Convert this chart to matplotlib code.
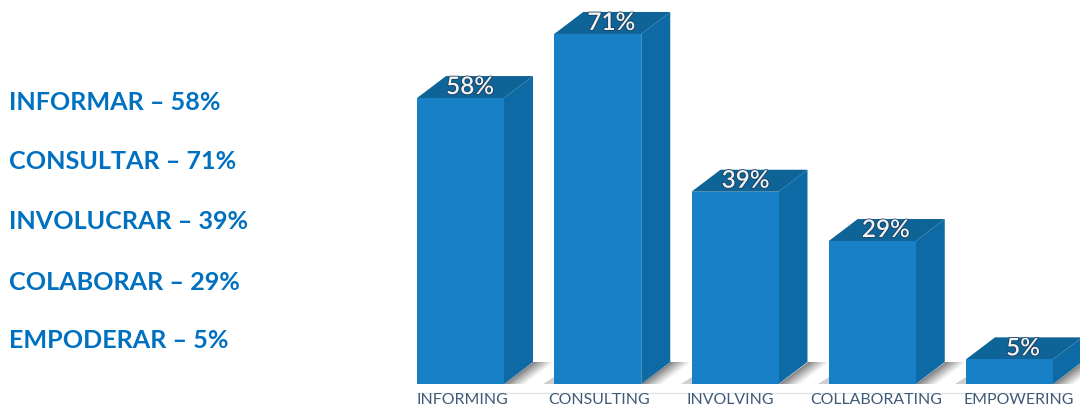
import matplotlib
matplotlib.use("Agg")
import matplotlib.pyplot as plt
import matplotlib.patheffects as pe
from matplotlib.patches import Polygon
import numpy as np

categories_en = ["INFORMING", "CONSULTING", "INVOLVING", "COLLABORATING", "EMPOWERING"]
categories_es = ["INFORMAR", "CONSULTAR", "INVOLUCRAR", "COLABORAR", "EMPODERAR"]
values = [58, 71, 39, 29, 5]
value_labels = ["58%", "71%", "39%", "29%", "5%"]

W, H = 1080, 408
STEP_PX = 137.25      # spacing between bars
ORIGIN_PX = 460.5     # centre of the first bar
BASE_PX = 384.0       # pixel row of value zero
UNIT_PX = 4.93        # pixels per percentage point

FRONT = "#1880c6"
SIDE = "#0e6aa4"
TOP = "#0e6496"
INK = "#0070c0"
CAPTION = "#3f5a78"

fig = plt.figure(figsize=(W / 100, H / 100), dpi=100, facecolor="white")
ax = fig.add_axes([0, 0, 1, 1])
xlim = (-ORIGIN_PX / STEP_PX, (W - ORIGIN_PX) / STEP_PX)
ylim = ((BASE_PX - H) / UNIT_PX, BASE_PX / UNIT_PX)
ax.axis("off")

width = 87 / STEP_PX
dx = 29 / STEP_PX
dy = 22 / UNIT_PX
xs = np.arange(len(values))

# Thin floor line under the bars
ax.plot([-0.32, 4.4], [-9 / UNIT_PX] * 2, color="#dfe3e8", lw=0.9, zorder=1)

# Soft cast shadows: a band along the lower edge of each side face, fading to the right
grid_x = np.linspace(0, 52, 105)
grid_y = np.linspace(0, 22, 45)
gx, gy = np.meshgrid(grid_x, grid_y)
away = gx - gy * 29 / 22
alpha = np.clip(1 - away / 22, 0, 1) ** 1.1 * 0.85
alpha[away < 0] = 0
shadow = np.zeros(alpha.shape + (4,))
shadow[..., :3] = 0.40
shadow[..., 3] = alpha
for x in xs:
    r = x + width / 2
    ax.imshow(shadow, origin="lower", aspect="auto", zorder=2, interpolation="bilinear",
              extent=(r, r + 52 / STEP_PX, 0, dy))
    # faint pool of shadow touching the left foot of the next bar
    if x + 1 < len(values):
        nl = x + 1 - width / 2
        ax.add_patch(Polygon([(nl - 11 / STEP_PX, 0), (nl, 0), (nl, 7 / UNIT_PX)],
                             fc="#a9a9a9", ec="none", alpha=0.55, zorder=2))
ax.set_xlim(*xlim)
ax.set_ylim(*ylim)

# Front faces
ax.bar(xs, values, width=width, color=FRONT, zorder=4)

# Side and top faces of each box
for x, v in zip(xs, values):
    l, r = x - width / 2, x + width / 2
    ax.add_patch(Polygon([(r, 0), (r + dx, dy), (r + dx, v + dy), (r, v)],
                         fc=SIDE, ec="none", zorder=3))
    ax.add_patch(Polygon([(l, v), (l + dx, v + dy), (r + dx, v + dy), (r, v)],
                         fc=TOP, ec="none", zorder=3))

# Value printed on the top face of each box
label_shift = [9.5, 13.5, 10.5, 13.5, 13.5]
for x, v, text, shift in zip(xs, values, value_labels, label_shift):
    ax.text(x + shift / STEP_PX, v + 11.5 / UNIT_PX, text, ha="center", va="center",
            color="#f1f4f7", fontsize=17.5, family="Lato", fontweight="semibold", zorder=6,
            path_effects=[pe.withStroke(linewidth=1.2, foreground="#1c3f5e")])

# Captions under the floor line
caption_shift = [2, 1, -5, 4, 9]
for x, text, shift in zip(xs, categories_en, caption_shift):
    ax.text(x + shift / STEP_PX, -15.5 / UNIT_PX, text, ha="center", va="center",
            color=CAPTION, fontsize=11.4, family="Lato", zorder=6)

# Spanish summary list on the left
rows_px = [103, 162, 222, 282, 341]
for row, name, text in zip(rows_px, categories_es, value_labels):
    ax.text(9 / W, 1 - row / H, f"{name} – {text}", transform=ax.transAxes,
            ha="left", va="center", color=INK, fontsize=18.1, family="Lato", fontweight="bold")

fig.savefig("out.png", dpi=100, facecolor="white")
